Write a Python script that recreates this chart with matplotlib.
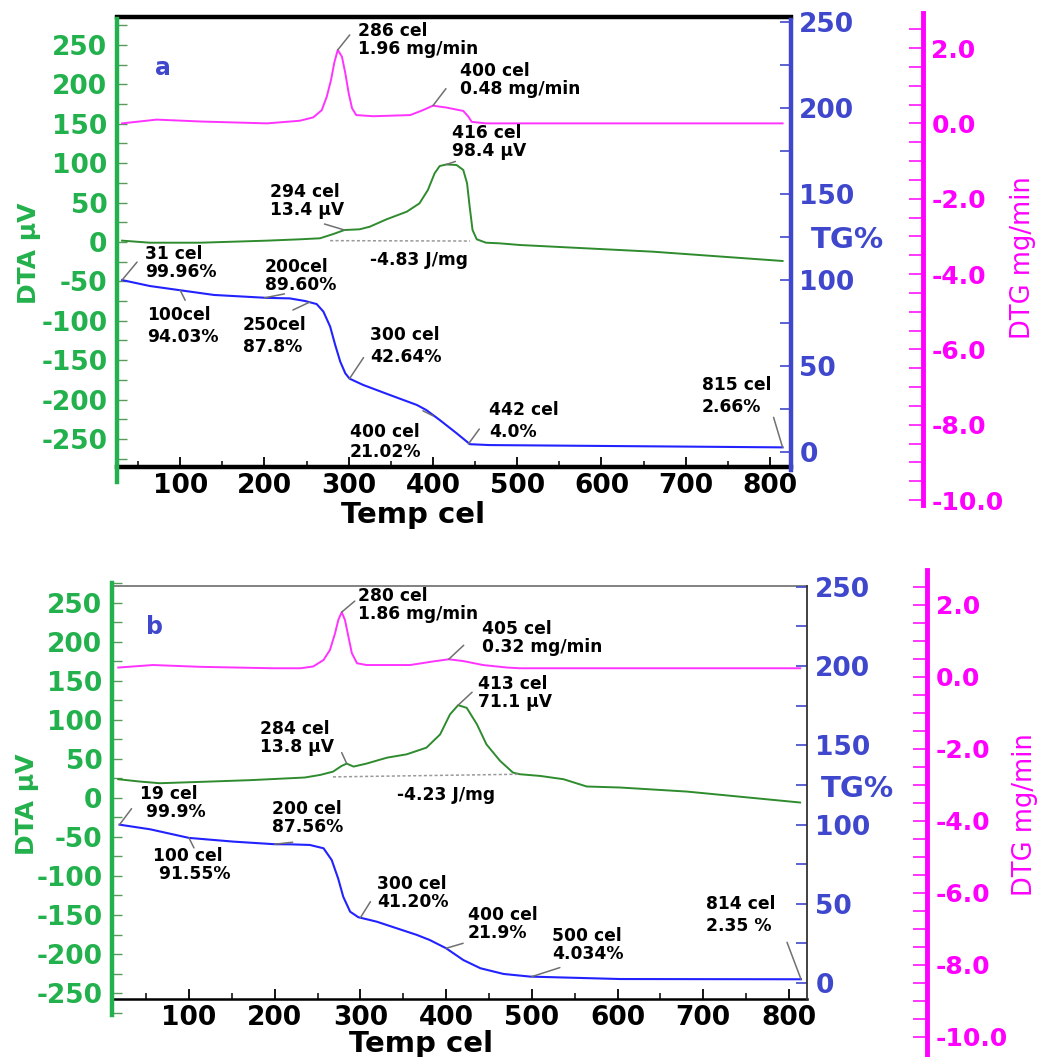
import numpy as np
import matplotlib.pyplot as plt

plt.rcParams['font.family'] = ['DejaVu Sans']
plt.rcParams['axes.unicode_minus'] = False

# tick values shared by both panels
temp_ticks = [100, 200, 300, 400, 500, 600, 700, 800]
dta_ticks = [250, 200, 150, 100, 50, 0, -50, -100, -150, -200, -250]
tg_ticks = [250, 200, 150, 100, 50, 0]
dtg_ticks = [2.0, 0.0, -2.0, -4.0, -6.0, -8.0, -10.0]

# ---- panel a
a_dtg_t = [31, 72, 124, 203, 242, 258, 268, 274, 279, 283, 287, 292, 296, 300, 304, 309, 329, 373, 388, 400,
           416, 436, 442, 446, 463, 815]
a_dtg = [0.0, 0.10, 0.05, 0.0, 0.07, 0.16, 0.35, 0.71, 1.15, 1.62, 1.95, 1.77, 1.33, 0.80, 0.40, 0.22, 0.19, 0.22,
         0.35, 0.47, 0.42, 0.33, 0.18, 0.04, 0.0, 0.0]

a_dta_t = [31, 64, 124, 203, 242, 266, 282, 295, 313, 325, 345, 369, 384, 394, 402, 408, 416, 428, 436, 440.5,
           443.6, 447, 452, 463, 479, 503, 661, 815]
a_dta = [1.7, -0.9, -0.9, 1.7, 3.4, 4.7, 10.2, 15.2, 16.1, 19.4, 28.8, 38.5, 49, 66, 87.2, 96.4, 98.4, 97.7, 91.4,
         74.5, 44.8, 15.2, 3.4, -0.9, -1.7, -3.8, -12.3, -24.1]
a_base_t = [278, 444]
a_base = [1.7, 1.2]

a_tg_t = [31, 64, 100, 140, 203, 230, 248, 262, 270, 278, 284, 290, 296, 301, 317, 349, 381, 392, 408, 428, 444,
          467, 815]
a_tg = [99.96, 96.5, 94.03, 91.3, 89.6, 89.3, 87.8, 86, 81.6, 72.9, 62.2, 52.5, 45.7, 42.64, 39, 33.1, 27.3, 24.4,
        18.6, 10.9, 4.5, 4.0, 2.66]

# ---- panel b
b_dtg_t = [17.5, 58, 113, 198, 230, 245, 257, 264.5, 270.4, 274.2, 278.2, 282, 286, 290, 296, 307, 358, 385, 403,
           420, 443, 471, 486, 813]
b_dtg = [0.26, 0.33, 0.28, 0.24, 0.24, 0.29, 0.47, 0.75, 1.21, 1.58, 1.80, 1.58, 1.12, 0.66, 0.38, 0.33, 0.33,
         0.43, 0.49, 0.44, 0.33, 0.26, 0.24, 0.24]

b_dta_t = [17.5, 43, 66, 113, 171, 235, 253, 268, 278, 284, 292, 307, 331, 354, 377, 393, 404.5, 414, 424, 436,
           447, 463, 478, 486, 510, 537, 564, 603, 681, 813]
b_dta = [23.8, 20.8, 18.7, 20.4, 22.6, 26, 29.3, 33.5, 40.8, 43.8, 40, 43.8, 51.4, 55.7, 64.2, 81.2, 106.8, 118.6,
         115.2, 94, 68.5, 47.2, 32.3, 30.2, 28, 23.8, 14.5, 13.2, 8, -6]
b_base_t = [268, 486]
b_base = [26.8, 30.2]

b_tg_t = [19, 54.5, 100, 152, 200, 218, 241, 257, 266.5, 274, 280, 288, 297.6, 319, 366, 381, 400, 420, 440, 467,
          498, 603, 814]
b_tg = [99.9, 97, 91.55, 89.2, 87.56, 87.5, 87.1, 85, 77.6, 66, 54.4, 45, 41.5, 38.7, 30.3, 27.1, 21.9, 14.5, 9.3,
        5.7, 4.034, 2.5, 2.35]

W, H = 1045, 1057
GREEN = '#22b14c'
GREEN_LINE = '#2e8b2e'
BLUE = '#3f48cc'
BLUE_LINE = '#2222ff'
MAGENTA = '#ff00ff'
MAG_LINE = '#ff33ff'

fig = plt.figure(figsize=(W / 100, H / 100), dpi=100)


def box(l, t, r, b):
    # pixel box (top-left origin) -> figure fraction
    return [l / W, 1 - b / H, (r - l) / W, (b - t) / H]


def only_spine(ax, xlim, keep):
    ax.set_xlim(xlim)
    ax.patch.set_visible(False)
    for k, s in ax.spines.items():
        s.set_visible(k == keep)
    ax.set_xticks([])


def ftext(x, y, s, **kw):
    fig.text(x / W, 1 - y / H, s, **kw)


def panel(lay, dtg_t, dtg, dta_t, dta, base_t, base, tg_t, tg, notes, labels):
    l, r = lay['x']
    xlim = lay['xlim']

    # frame carrying the temperature axis
    fr = fig.add_axes(box(l, lay['frame'][0], r, lay['frame'][1]))
    fr.set_xlim(xlim)
    fr.set_yticks([])
    fr.patch.set_visible(False)
    fr.spines['left'].set_visible(False)
    fr.spines['right'].set_visible(False)
    fr.spines['top'].set_linewidth(lay['top_lw'])
    fr.spines['top'].set_color(lay['top_color'])
    fr.spines['bottom'].set_linewidth(lay['bot_lw'])
    fr.set_xticks(temp_ticks, [str(v) for v in temp_ticks], fontsize=19, fontweight='bold')
    fr.set_xticks(np.arange(50, 850, 50), minor=True)
    fr.tick_params(axis='x', which='major', direction='in', length=7, width=1.3, pad=lay['xpad'])
    fr.tick_params(axis='x', which='minor', direction='in', length=4, width=1.1)

    # DTA (left, green)
    ax1 = fig.add_axes(box(l, lay['dta'][0], r, lay['dta'][1]))
    only_spine(ax1, xlim, 'left')
    ax1.set_ylim(lay['dta'][2], lay['dta'][3])
    ax1.spines['left'].set_color(GREEN)
    ax1.spines['left'].set_linewidth(3.2)
    ax1.set_yticks(dta_ticks, [str(v) for v in dta_ticks], fontsize=19, fontweight='bold', color=GREEN)
    ax1.set_yticks(np.arange(-275, 280, 25), minor=True)
    ax1.tick_params(axis='y', which='both', direction='in', length=7, width=1, color='#5a9a5a', pad=7)
    ax1.plot(dta_t, dta, color=GREEN_LINE, lw=1.4)
    ax1.plot(base_t, base, color='#999999', lw=1.1, ls=(0, (2, 1.5)))

    # TG (right, blue)
    ax2 = fig.add_axes(box(l, lay['tg'][0], r, lay['tg'][1]))
    only_spine(ax2, xlim, 'right')
    ax2.set_ylim(lay['tg'][2], lay['tg'][3])
    ax2.spines['right'].set_color(lay['tg_spine'])
    ax2.spines['right'].set_linewidth(lay['tg_lw'])
    ax2.yaxis.tick_right()
    ax2.set_yticks(tg_ticks, [str(v) for v in tg_ticks], fontsize=19, fontweight='bold', color=BLUE)
    ax2.set_yticks(np.arange(0, 251, 25), minor=True)
    ax2.tick_params(axis='y', which='both', direction='in', length=8, width=1.2, color=BLUE, pad=6)
    ax2.plot(tg_t, tg, color=BLUE_LINE, lw=1.5)

    # DTG (offset right, magenta)
    ax3 = fig.add_axes(box(l, lay['dtg'][0], r, lay['dtg'][1]))
    only_spine(ax3, xlim, 'right')
    ax3.set_ylim(lay['dtg'][2], lay['dtg'][3])
    ax3.spines['right'].set_position(('axes', lay['dtg_pos']))
    ax3.spines['right'].set_color(MAGENTA)
    ax3.spines['right'].set_linewidth(3.5)
    ax3.yaxis.tick_right()
    ax3.set_yticks(dtg_ticks, ['%.1f' % v for v in dtg_ticks], fontsize=18, fontweight='bold', color=MAGENTA)
    ax3.set_yticks(np.arange(-10, 3, 0.5), minor=True)
    ax3.tick_params(axis='y', which='both', direction='in', length=10, width=1.1, color=MAGENTA, pad=6)
    ax3.plot(dtg_t, dtg, color=MAG_LINE, lw=1.4)

    axes = {'dta': ax1, 'tg': ax2, 'dtg': ax3}
    for text, key, tx, ty, x0, y0, dx, dy, ls in notes:
        ftext(x0, y0, text, ha='left', va='center', fontsize=12.3, fontweight='bold', linespacing=ls)
        if key:
            axes[key].annotate('', xy=(tx, ty), xytext=(dx, dy), textcoords='offset pixels',
                               arrowprops=dict(arrowstyle='-', color='#707070', lw=1.1,
                                               shrinkA=0, shrinkB=0))

    (lx, ly), (tgx, tgy), (dx_, dy_), (tx_, ty_), (cx, cy, letter) = labels
    ftext(lx, ly, 'DTA µV', color=GREEN, fontsize=18, fontweight='bold', rotation=90, ha='center', va='center')
    ftext(tgx, tgy, 'TG%', color=BLUE, fontsize=21, fontweight='bold', ha='center', va='center')
    ftext(dx_, dy_, 'DTG mg/min', color=MAGENTA, fontsize=18.5, rotation=90, ha='center', va='center')
    ftext(tx_, ty_, 'Temp cel', fontsize=21, fontweight='bold', ha='center', va='top')
    ftext(cx, cy, letter, color=BLUE, fontsize=17, fontweight='bold', ha='center', va='center')


lay_a = dict(x=(117, 791), xlim=(25, 825), frame=(17, 467), top_lw=3.2, top_color='black', bot_lw=3.2, xpad=4,
             dta=(19, 482, -304.6, 283), tg=(20, 470, -10.5, 251.2), tg_spine=BLUE, tg_lw=3.2,
             dtg=(13, 505, -10.13, 2.93), dtg_pos=1.196)
notes_a = [
    ('286 cel\n1.96 mg/min', 'dtg', 287, 1.95, 358, 40, 12, 15, 0.95),
    ('400 cel\n0.48 mg/min', 'dtg', 400, 0.47, 460, 80, 13, 17, 0.95),
    ('416 cel\n98.4 µV', 'dta', 416, 98.4, 452, 142, 9, 3, 0.95),
    ('294 cel\n13.4 µV', 'dta', 295, 15.2, 270, 201, -20, 6, 1.0),
    ('-4.83 J/mg', None, 0, 0, 370, 260, 0, 0, 1.0),
    ('31 cel\n99.96%', 'tg', 31, 99.96, 145, 263, 15, 18, 0.95),
    ('200cel\n89.60%', 'tg', 200, 89.6, 265, 276, 20, 4, 0.95),
    ('100cel\n94.03%', 'tg', 100, 94.03, 147, 326, 5, -10, 1.35),
    ('250cel\n87.8%', 'tg', 254, 87.2, 243, 336, -17, -8, 1.35),
    ('300 cel\n42.64%', 'tg', 301, 42.64, 370, 346, 14, 21, 1.35),
    ('400 cel\n21.02%', 'tg', 400, 21.02, 350, 442, -10, 5, 1.1),
    ('442 cel\n4.0%', 'tg', 442, 4.6, 489, 421, 11, 15, 1.35),
    ('815 cel\n2.66%', 'tg', 815, 2.66, 702, 396, -9, 30, 1.35),
]
labels_a = [(29, 253), (847, 240), (1023, 258), (413, 501), (163, 68, 'a')]

lay_b = dict(x=(112, 807), xlim=(10.2, 821), frame=(586, 999), top_lw=1.3, top_color='#777777', bot_lw=1.8, xpad=4,
             dta=(583, 1015, -278, 273), tg=(586, 999, -10.1, 250.5), tg_spine='#333333', tg_lw=1.3,
             dtg=(570, 1057, -10.56, 2.97), dtg_pos=1.173)
notes_b = [
    ('280 cel\n1.86 mg/min', 'dtg', 278.2, 1.80, 358, 605, 13, 11, 0.95),
    ('405 cel\n0.32 mg/min', 'dtg', 403, 0.49, 482, 638, 15, 14, 0.95),
    ('413 cel\n71.1 µV', 'dta', 414, 118.6, 478, 693, 14, 13, 0.95),
    ('284 cel\n13.8 µV', 'dta', 284, 43.8, 260, 738, -5, 11, 0.95),
    ('-4.23 J/mg', None, 0, 0, 397, 795, 0, 0, 1.0),
    ('19 cel\n 99.9%', 'tg', 19, 99.9, 140, 803, 12, 16, 0.95),
    ('200 cel\n87.56%', 'tg', 200, 87.56, 272, 818, 18, 2, 0.95),
    ('100 cel\n 91.55%', 'tg', 100, 91.55, 153, 865, 5, -10, 0.95),
    ('300 cel\n41.20%', 'tg', 300, 41.2, 377, 893, 10, 16, 0.95),
    ('400 cel\n21.9%', 'tg', 400, 21.9, 468, 924, 17, 5, 0.95),
    ('500 cel\n4.034%', 'tg', 500, 4.034, 552, 945, 28, 9, 0.95),
    ('814 cel\n2.35 %', 'tg', 814, 2.35, 706, 915, -14, 37, 1.35),
]
labels_b = [(27, 804), (857, 789), (1025, 815), (421, 1030), (155, 627, 'b')]

panel(lay_a, a_dtg_t, a_dtg, a_dta_t, a_dta, a_base_t, a_base, a_tg_t, a_tg, notes_a, labels_a)
panel(lay_b, b_dtg_t, b_dtg, b_dta_t, b_dta, b_base_t, b_base, b_tg_t, b_tg, notes_b, labels_b)

fig.savefig('out.png', dpi=100)
